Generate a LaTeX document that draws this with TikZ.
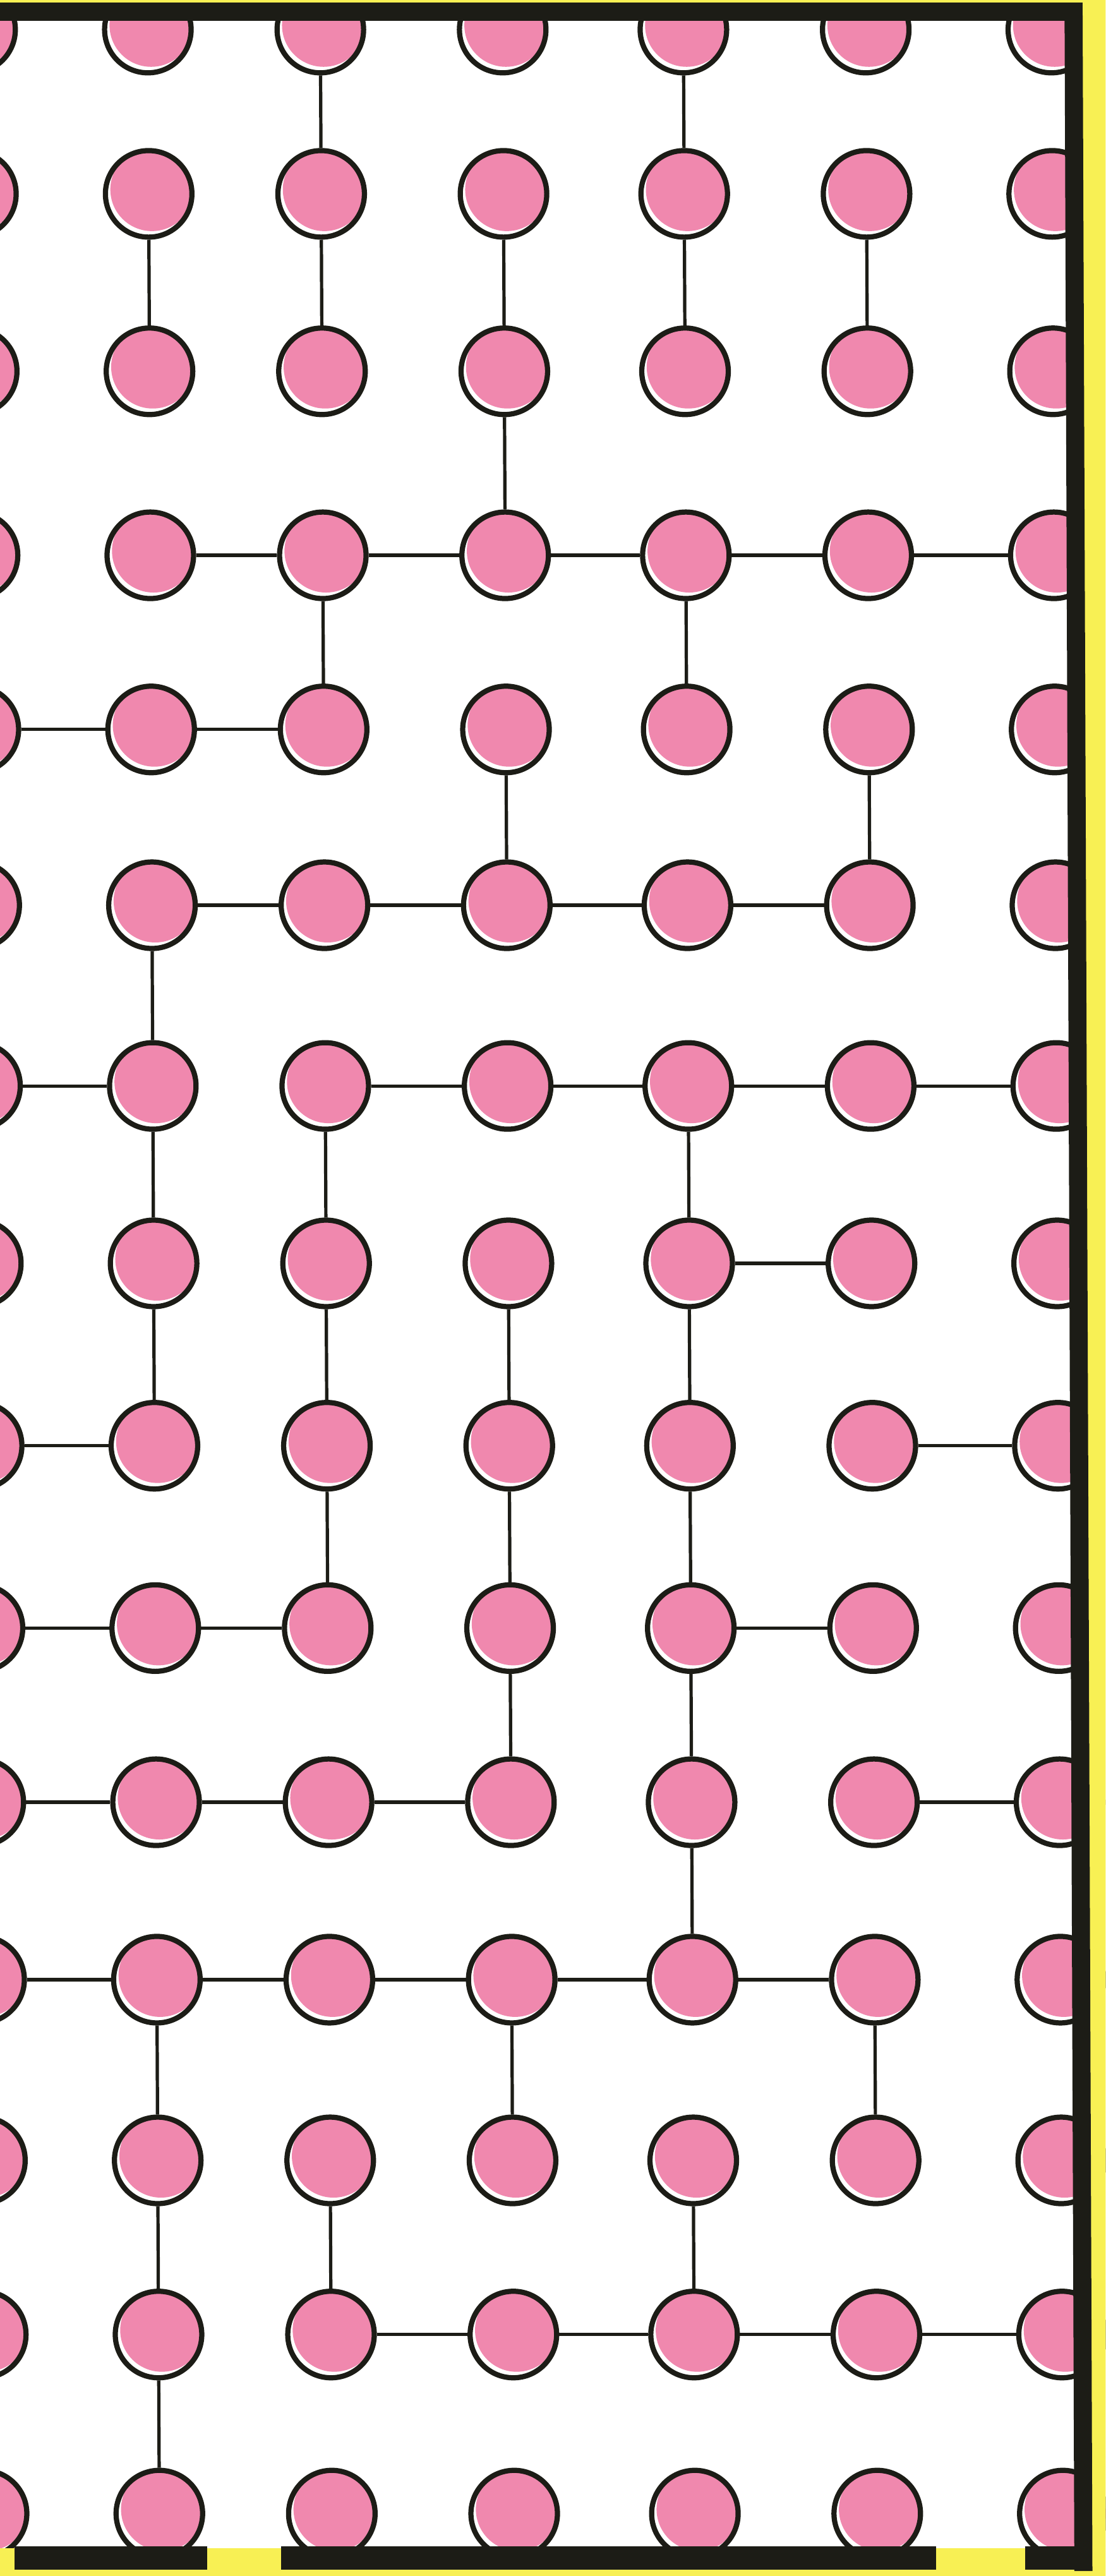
\documentclass[tikz,border=0pt]{standalone}
\usepackage{tikz}
\usetikzlibrary{positioning}

\definecolor{beadpink}{RGB}{240,136,174}
\definecolor{frameyellow}{RGB}{248,240,84}
\definecolor{inkblack}{RGB}{28,28,22}

\begin{document}
\begin{tikzpicture}[
  x=0.3mm, y=-0.3mm,
  bead/.style={circle, draw=inkblack, line width=0.95mm, fill=white,
    minimum size=15.8mm, inner sep=0pt,
    path picture={\fill[beadpink] ([shift={(0.6mm,0.8mm)}]path picture bounding box.center) circle (7.6mm);}},
  link/.style={draw=inkblack, line width=0.6mm},
  band/.style={fill=inkblack},
  edgefill/.style={fill=frameyellow}
]
  \useasboundingbox (0,0) rectangle (673,1568);
  \clip (0,0) rectangle (673,1568);
  \fill[white] (0,0) rectangle (673,1568);

  % beads
  \foreach \r/\y in {0/18,1/118,2/226,3/338,4/444,5/551,6/661,7/769,
                     8/880,9/991,10/1097,11/1205,12/1315,13/1421,14/1530} {
    \foreach \c/\x in {0/-17,1/90,2/195,3/306,4/416,5/527,6/640} {
      \node[bead] (n-\r-\c) at ({\x+0.5*\r},\y) {};
    }
  }

  % horizontal links
  \foreach \r/\c [evaluate=\c as \d using int(\c+1)] in
    {3/1,3/2,3/3,3/4,3/5, 4/0,4/1, 5/1,5/2,5/3,5/4, 6/0,6/2,6/3,6/4,6/5,
     7/4, 8/0,8/5, 9/0,9/1,9/4, 10/0,10/1,10/2,10/5,
     11/0,11/1,11/2,11/3,11/4, 13/2,13/3,13/4,13/5}
    \draw[link] (n-\r-\c) -- (n-\r-\d);

  % vertical links
  \foreach \r/\c [evaluate=\r as \s using int(\r+1)] in
    {0/2,0/4, 1/1,1/2,1/3,1/4,1/5, 2/3, 3/2,3/4, 4/3,4/5, 5/1,
     6/1,6/2,6/4, 7/1,7/2,7/3,7/4, 8/2,8/3,8/4, 9/3,9/4, 10/4,
     11/1,11/3,11/5, 12/1,12/2,12/4, 13/1}
    \draw[link] (n-\r-\c) -- (n-\s-\c);

  % yellow margin outside the frame
  \fill[edgefill] (0,0) rectangle (673,1.7);
  \fill[edgefill] (658,0) -- (673,0) -- (673,1568) -- (664,1568) -- cycle;
  \fill[edgefill] (0,1551) rectangle (673,1568);

  % frame
  \fill[band] (0,1.7) rectangle (659,12.6);
  \fill[band] (648,1.7) -- (659,1.7) -- (665,1565) -- (654,1565) -- cycle;
  \fill[band] (9,1550) rectangle (126,1564);
  \fill[band] (171,1550) rectangle (570,1564);
  \fill[band] (624,1550) rectangle (662,1564);
\end{tikzpicture}
\end{document}
